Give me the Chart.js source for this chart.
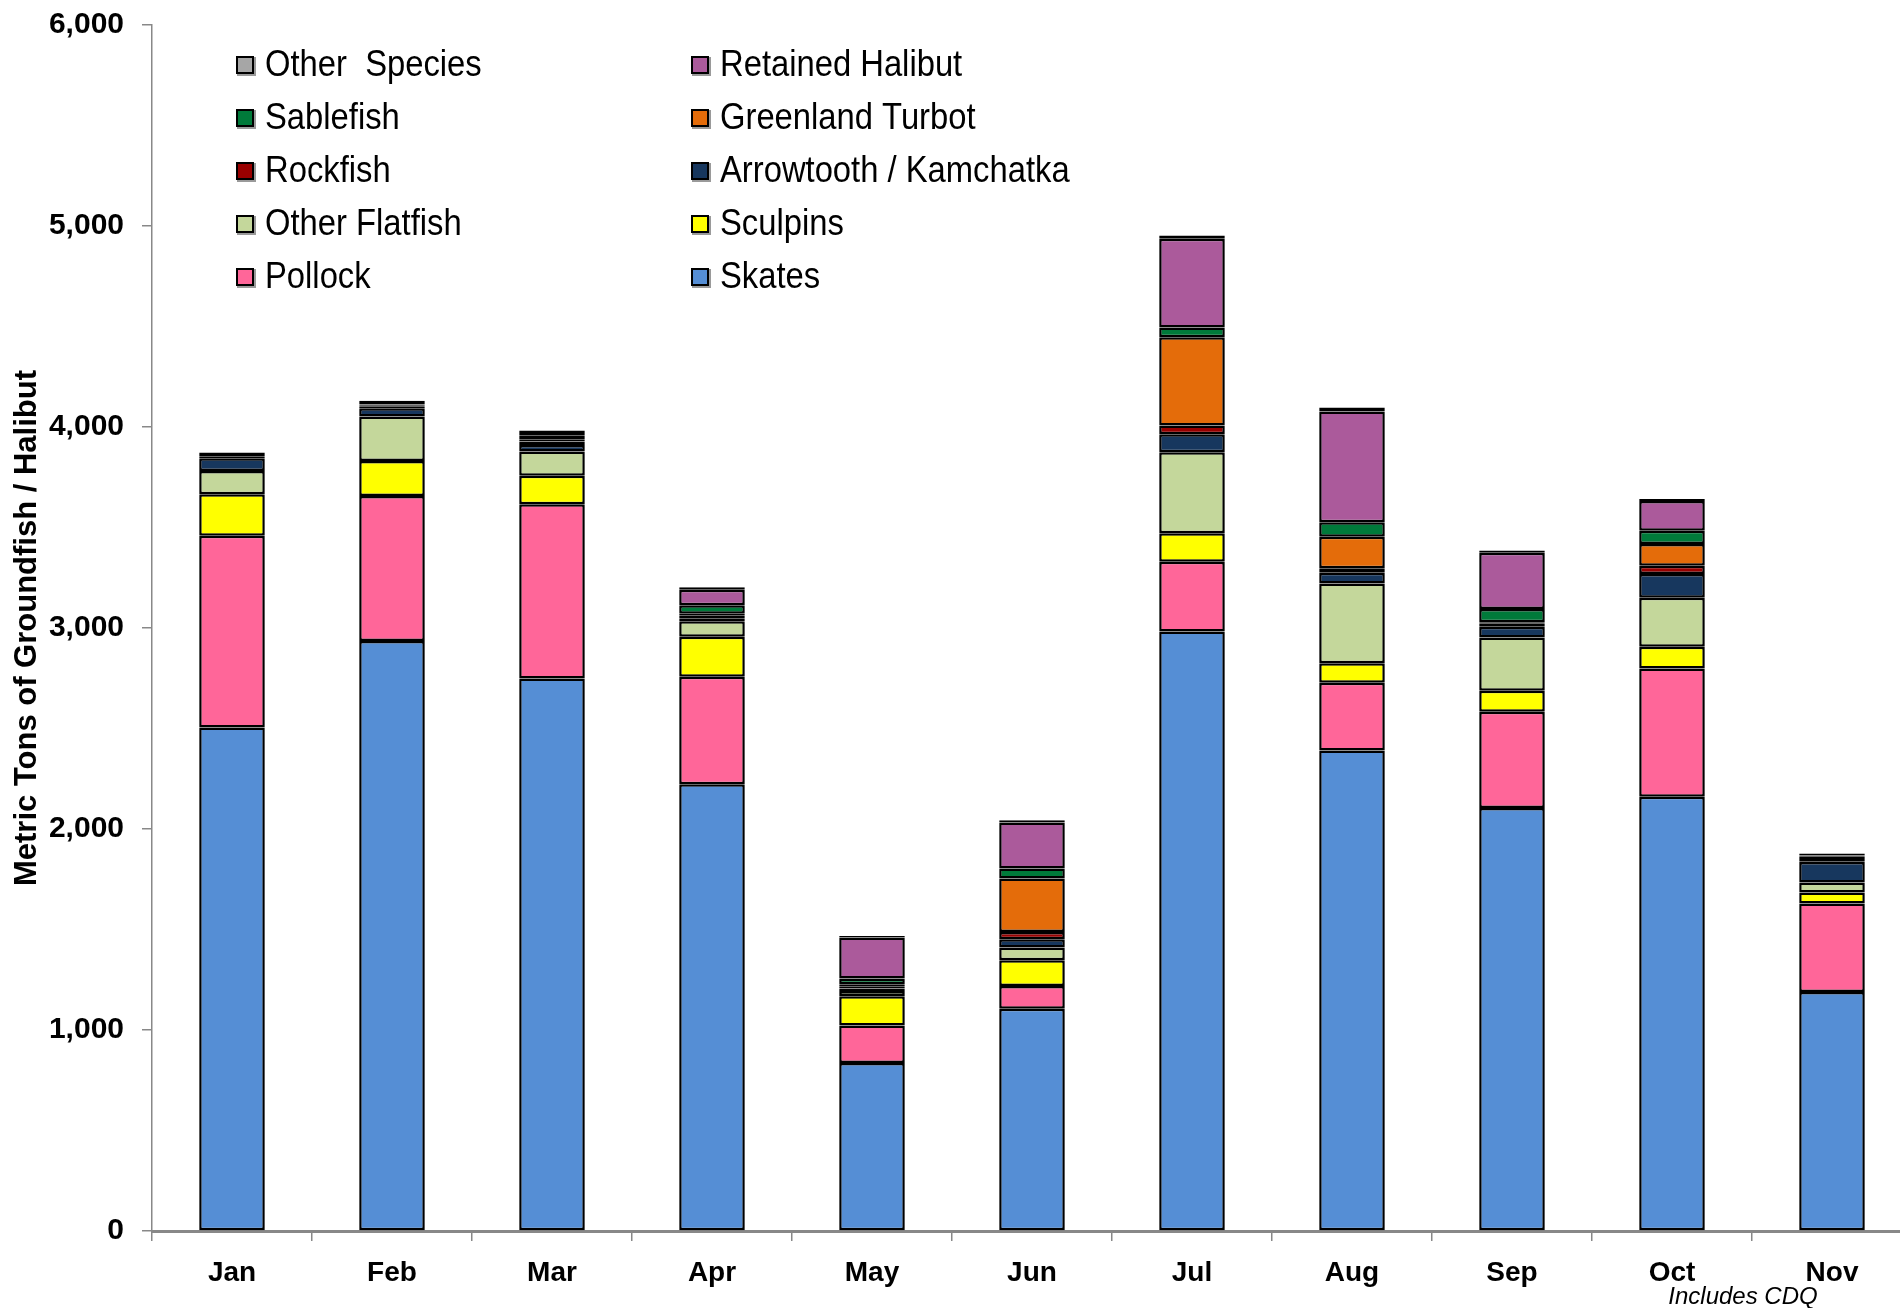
<!DOCTYPE html>
<html>
<head>
<meta charset="utf-8">
<title>Groundfish / Halibut by Month</title>
<script src="https://cdn.jsdelivr.net/npm/chart.js@4/dist/chart.umd.min.js"></script>
<style>
  html, body { margin: 0; padding: 0; background: #fff; overflow: hidden; }
  #wrap { width: 1912px; height: 1308px; }
</style>
</head>
<body>
<div id="wrap"><canvas id="chart"></canvas></div>
<script>
// Monthly catch, metric tons, stacked by species group
const months = ["Jan", "Feb", "Mar", "Apr", "May", "Jun", "Jul", "Aug", "Sep", "Oct", "Nov"];
const skates        = [2505, 2935, 2749, 2223, 836, 1106, 2982, 2390, 2105, 2160, 1189];
const pollock       = [954, 722, 867, 534, 187, 113, 348, 338, 478, 639, 440];
const sculpins      = [206, 174, 141, 200, 145, 128, 141, 97, 105, 108, 55];
const otherFlatfish = [116, 221, 121, 76, 26, 63, 403, 397, 265, 244, 50];
const arrowtooth    = [64, 41, 33, 15, 12, 41, 90, 53, 53, 118, 102];
const rockfish      = [6, 10, 17, 15, 12, 37, 43, 22, 18, 41, 4];
const turbot        = [4, 3, 8, 8, 9, 266, 440, 157, 4, 108, 16];
const sablefish     = [6, 3, 20, 42, 29, 49, 48, 72, 66, 66, 8];
const halibut       = [5, 3, 14, 77, 204, 229, 442, 551, 281, 148, 4];
const otherSpecies  = [7, 19, 12, 13, 8, 12, 16, 20, 10, 10, 10];

const yTicks = [0, 1000, 2000, 3000, 4000, 5000, 6000];

const series = [
  { label: "Skates", data: skates, color: "#558ed5" },
  { label: "Pollock", data: pollock, color: "#ff6699" },
  { label: "Sculpins", data: sculpins, color: "#ffff00" },
  { label: "Other Flatfish", data: otherFlatfish, color: "#c4d79b" },
  { label: "Arrowtooth / Kamchatka", data: arrowtooth, color: "#17375e" },
  { label: "Rockfish", data: rockfish, color: "#990000" },
  { label: "Greenland Turbot", data: turbot, color: "#e46c0a" },
  { label: "Sablefish", data: sablefish, color: "#007a3a" },
  { label: "Retained Halibut", data: halibut, color: "#ab5a9b" },
  { label: "Other  Species", data: otherSpecies, color: "#a6a6a6" }
];

const AXIS_GRAY = "#888888";

/* ------------------------- legend + footnote --------------------------- */

// Two-column legend inside the plot, top series first, filled row by row.
const cornerLegend = {
  id: "cornerLegend",
  afterDraw(chart) {
    const ctx = chart.ctx;
    const sets = chart.data.datasets.slice().reverse();
    const colX = [236, 691];
    const rowY = 65;
    const rowStep = 53;
    const box = 18;

    ctx.save();
    ctx.font = "36px 'Liberation Sans', Arial, sans-serif";
    ctx.textBaseline = "middle";
    sets.forEach((ds, i) => {
      const x = colX[i % 2];
      const y = rowY + Math.floor(i / 2) * rowStep;
      ctx.fillStyle = "#9a9a9a";
      ctx.fillRect(x + 1, y - box / 2 + 1, box + 1, box + 1);
      ctx.fillStyle = ds.backgroundColor;
      ctx.fillRect(x, y - box / 2, box, box);
      ctx.lineWidth = 2;
      ctx.strokeStyle = "#000";
      ctx.strokeRect(x + 1, y - box / 2 + 1, box - 2, box - 2);
      // labels are set a little condensed
      ctx.save();
      ctx.translate(x + box + 11, y + 1);
      ctx.scale(0.91, 1);
      ctx.fillStyle = "#000";
      ctx.fillText(ds.label, 0, 0);
      ctx.restore();
    });

    ctx.font = "italic 24px 'Liberation Sans', Arial, sans-serif";
    ctx.fillStyle = "#000";
    ctx.textAlign = "center";
    ctx.textBaseline = "alphabetic";
    ctx.fillText("Includes CDQ", 1743, 1304);
    ctx.restore();
  }
};

/* ------------------------------- chart --------------------------------- */

Chart.defaults.font.family = "'Liberation Sans', Arial, sans-serif";
Chart.defaults.color = "#000";

new Chart(document.getElementById("chart"), {
  type: "bar",
  data: {
    labels: months,
    datasets: series.map((s) => ({
      label: s.label,
      data: s.data,
      backgroundColor: s.color,
      borderColor: "#000",
      borderWidth: 2.5,
      borderSkipped: false,
      barPercentage: 0.41,
      categoryPercentage: 1
    }))
  },
  options: {
    responsive: true,
    maintainAspectRatio: false,
    animation: false,
    layout: { padding: { top: 25, right: 0, bottom: 0, left: 0 } },
    plugins: {
      legend: { display: false },
      tooltip: { enabled: false }
    },
    scales: {
      x: {
        stacked: true,
        grid: {
          offset: true,
          drawOnChartArea: false,
          drawTicks: true,
          tickLength: 10,
          color: AXIS_GRAY,
          lineWidth: 1.5
        },
        border: { color: AXIS_GRAY, width: 3 },
        ticks: {
          font: { size: 28, weight: "bold" },
          padding: 15,
          maxRotation: 0
        },
        afterFit(scale) { scale.height = 77; }
      },
      y: {
        stacked: true,
        min: 0,
        max: 6000,
        afterBuildTicks(scale) { scale.ticks = yTicks.map((v) => ({ value: v })); },
        grid: {
          drawOnChartArea: false,
          drawTicks: true,
          tickLength: 10,
          color: AXIS_GRAY,
          lineWidth: 1.5
        },
        border: { color: AXIS_GRAY, width: 1.5 },
        ticks: {
          font: { size: 30, weight: "bold" },
          padding: 18,
          callback: (v) => v.toLocaleString("en-US")
        },
        title: {
          display: true,
          text: "Metric Tons of Groundfish / Halibut",
          font: { size: 31, weight: "bold" },
          padding: { top: 9, bottom: 0 }
        },
        afterFit(scale) {
          scale.width = 152;
          // top label may overhang; keep the plot top on the layout padding
          scale.paddingTop = 0;
          scale.paddingBottom = 0;
        }
      }
    }
  },
  plugins: [cornerLegend]
});
</script>
</body>
</html>
